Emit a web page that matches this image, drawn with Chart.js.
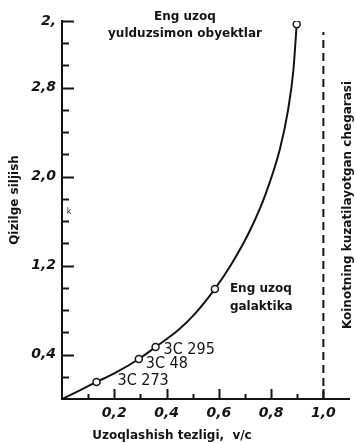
<!DOCTYPE html>
<html>
<head>
<meta charset="utf-8">
<script src="https://cdn.jsdelivr.net/npm/chart.js@4.4.1/dist/chart.umd.min.js"></script>
<style>
  html, body { margin:0; padding:0; background:#fff; }
  #c { display:block; }
</style>
</head>
<body>
<canvas id="c" width="355" height="443"></canvas>
<script>
// ── DATA ───────────────────────────────────────────────
// redshift curve (v/c -> z)
const curveV = [0, 0.07, 0.132, 0.2, 0.294, 0.358, 0.445, 0.51, 0.585, 0.645, 0.72, 0.78, 0.834, 0.865, 0.885, 0.898];
const curveZ = [0, 0.08, 0.153, 0.23, 0.36, 0.468, 0.62, 0.77, 0.99, 1.2, 1.52, 1.85, 2.25, 2.6, 2.95, 3.37];

// marked objects (open circles)
const objNames = ["3C 273", "3C 48", "3C 295", "Eng uzoq galaktika", "Eng uzoq yulduzsimon obyektlar"];
const objV     = [0.132, 0.294, 0.358, 0.585, 0.898];
const objZ     = [0.153, 0.36, 0.468, 0.99, 3.37];

// observable limit, v/c = 1
const limitV = [1.0, 1.0];
const limitZ = [0, 3.3];

// axes
const xTickVals   = [0.2, 0.4, 0.6, 0.8, 1.0];
const xTickLabels = ["0,2", "0,4", "0,6", "0,8", "1,0"];
const xMinorVals  = [0.1, 0.3, 0.5, 0.7, 0.9];
const yTickVals   = [0.4, 1.2, 2.0, 2.8, 3.4];
const yTickLabels = ["0,4", "1,2", "2,0", "2,8", "2,"];
const yMinorVals  = [0.2, 0.6, 0.8, 1.0, 1.4, 1.6, 1.8, 2.2, 2.4, 2.6, 3.0, 3.2];

const xTitle     = "Uzoqlashish tezligi,  v/c";
const yTitle     = "Qizilge siljish";
const rightTitle = "Koinotning kuzatilayotgan chegarasi";

// ── STYLE ──────────────────────────────────────────────
const INK  = "#141414";
const SANS = "'DejaVu Sans', sans-serif";
const NUM  = "'DejaVu Sans', sans-serif";
const COND = "'DejaVu Sans Condensed', 'DejaVu Sans', sans-serif";

// label offsets from each object's point (px)
const objLabelPos = [
  { dx: 21, dy: -1 },
  { dx: 7,  dy: 5 },
  { dx: 8,  dy: 3 },
  { dx: 15, dy: 0 },
  null
];

// ── PLUGIN: inner ticks + texts ────────────────────────
const decor = {
  id: "decor",
  afterDatasetsDraw(chart) {
    const { ctx, scales: { x, y } } = chart;
    ctx.save();
    ctx.strokeStyle = INK;
    ctx.lineWidth = 2;

    // y ticks pointing inside
    const yTick = (v, len) => {
      const p = Math.round(y.getPixelForValue(v)) + 0.5;
      ctx.beginPath(); ctx.moveTo(x.left, p); ctx.lineTo(x.left + len, p); ctx.stroke();
    };
    yTickVals.forEach(v => yTick(v, 12));
    yMinorVals.forEach(v => yTick(v, 7));

    // x ticks pointing up
    const xTick = (v, len) => {
      const p = Math.round(x.getPixelForValue(v)) + 0.5;
      ctx.beginPath(); ctx.moveTo(p, y.bottom); ctx.lineTo(p, y.bottom - len); ctx.stroke();
    };
    xTickVals.forEach(v => xTick(v, 10));
    xMinorVals.forEach(v => xTick(v, 5));

    ctx.fillStyle = INK;

    // object labels
    ctx.textBaseline = "middle";
    ctx.textAlign = "left";
    objNames.forEach((name, i) => {
      const pos = objLabelPos[i];
      if (!pos) return;
      const px = x.getPixelForValue(objV[i]) + pos.dx;
      const py = y.getPixelForValue(objZ[i]) + pos.dy;
      if (i < 3) {
        ctx.font = `16px ${COND}`;
        ctx.fillText(name, px, py);
      } else {
        ctx.font = `bold 12px ${SANS}`;
        ctx.fillText("Eng uzoq", px, py);
        ctx.fillText("galaktika", px, py + 18);
      }
    });

    // top object label
    ctx.textAlign = "center";
    ctx.font = `bold 12px ${SANS}`;
    ctx.fillText("Eng uzoq", 185, 17);
    ctx.fillText("yulduzsimon obyektlar", 185, 34);

    // small mark on the y axis
    ctx.font = `8px ${SANS}`;
    ctx.fillText("k", 69, 212);

    // axis titles
    ctx.font = `bold 12px ${SANS}`;
    ctx.fillText(xTitle, 172, 436);

    ctx.save();
    ctx.translate(15, 200);
    ctx.rotate(-Math.PI / 2);
    ctx.fillText(yTitle, 0, 0);
    ctx.restore();

    ctx.save();
    ctx.translate(348, 205);
    ctx.rotate(-Math.PI / 2);
    ctx.fillText(rightTitle, 0, 0);
    ctx.restore();

    ctx.restore();
  }
};

// ── CHART ──────────────────────────────────────────────
const tickFont = { family: NUM, size: 14, weight: "bold", style: "italic" };

new Chart(document.getElementById("c"), {
  type: "line",
  data: {
    datasets: [
      {
        label: "objects",
        data: objV.map((v, i) => ({ x: v, y: objZ[i] })),
        showLine: false,
        pointRadius: 3.5,
        pointBackgroundColor: "#fff",
        pointBorderColor: INK,
        pointBorderWidth: 1.5,
        order: 0
      },
      {
        label: "curve",
        data: curveV.map((v, i) => ({ x: v, y: curveZ[i] })),
        borderColor: INK,
        borderWidth: 2,
        pointRadius: 0,
        cubicInterpolationMode: "monotone",
        order: 1
      },
      {
        label: "limit",
        data: limitV.map((v, i) => ({ x: v, y: limitZ[i] })),
        borderColor: INK,
        borderWidth: 2,
        borderDash: [8, 5],
        pointRadius: 0,
        order: 2
      }
    ]
  },
  options: {
    responsive: false,
    devicePixelRatio: 1,
    animation: false,
    layout: { padding: { top: 21, right: 1, left: 0, bottom: 0 } },
    plugins: { legend: { display: false }, tooltip: { enabled: false } },
    scales: {
      x: {
        type: "linear",
        min: 0, max: 1.1,
        grid: { display: false, drawTicks: false },
        border: { display: true, color: INK, width: 2 },
        afterBuildTicks: s => { s.ticks = xTickVals.map(v => ({ value: v })); },
        afterFit: s => { s.height = 44; },
        ticks: {
          color: INK, font: tickFont, padding: 6, maxRotation: 0, autoSkip: false,
          callback: (v, i) => xTickLabels[i]
        }
      },
      y: {
        type: "linear",
        min: 0, max: 3.4,
        grid: { display: false, drawTicks: false },
        border: { display: true, color: INK, width: 2 },
        afterBuildTicks: s => { s.ticks = yTickVals.map(v => ({ value: v })); },
        afterFit: s => { s.width = 62; },
        ticks: {
          color: INK, font: tickFont, padding: 6, autoSkip: false,
          callback: (v, i) => yTickLabels[i]
        }
      }
    }
  },
  plugins: [decor]
});
</script>
</body>
</html>
